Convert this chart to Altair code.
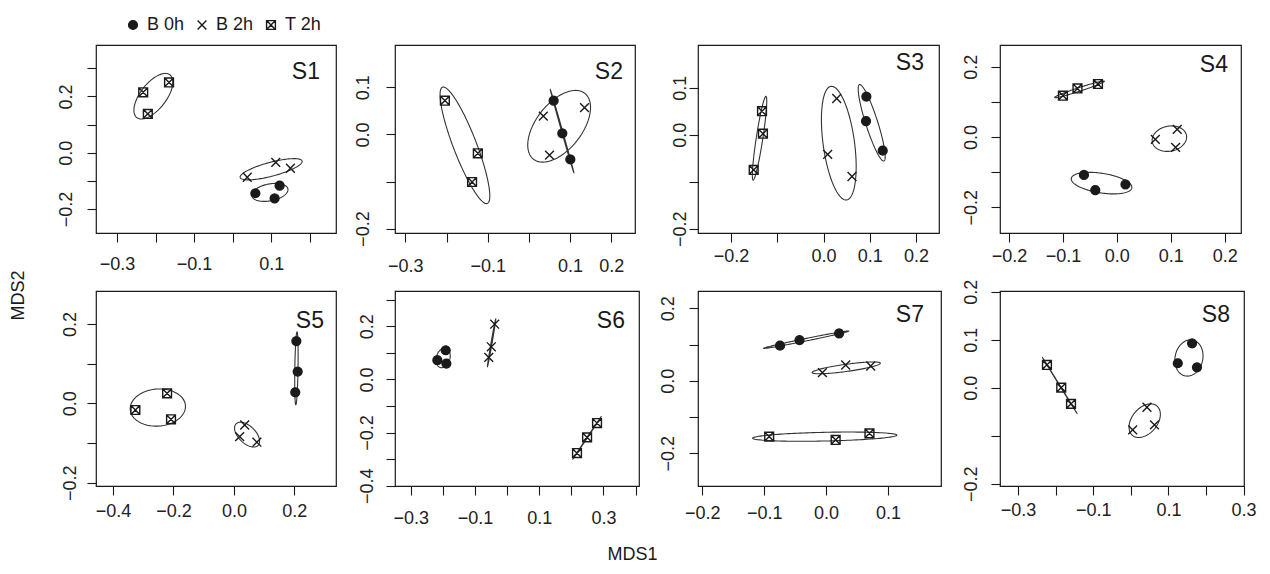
import altair as alt
import numpy as np
import pandas as pd

FONT = "Liberation Sans"
PANELS = ["S1", "S2", "S3", "S4", "S5", "S6", "S7", "S8"]
GROUPS = ["B 0h", "B 2h", "T 2h"]

# point coordinates per panel (MDS1, MDS2)
B0H_X = [[0.059, 0.122, 0.109], [0.060, 0.081, 0.1005], [0.0926, 0.0919, 0.128], [-0.061, -0.040, 0.016],
         [0.2066, 0.211, 0.203], [-0.217, -0.191, -0.189], [-0.0745, -0.043, 0.021], [0.163, 0.125, 0.176]]
B0H_Y = [[-0.144, -0.117, -0.162], [0.0717, 0.0023, -0.053], [0.081, 0.029, -0.034], [-0.108, -0.151, -0.1346],
         [0.157, 0.080, 0.0277], [0.0728, 0.110, 0.060], [0.097, 0.1126, 0.131], [0.0925, 0.051, 0.0426]]
B2H_X = [[0.038, 0.112, 0.150], [0.035, 0.135, 0.050], [0.0285, 0.009, 0.0616], [0.0714, 0.112, 0.109],
         [0.0357, 0.019, 0.076], [-0.0386, -0.049, -0.057], [-0.006, 0.0316, 0.072], [0.043, 0.005, 0.063]]
B2H_Y = [[-0.087, -0.034, -0.055], [0.039, 0.057, -0.044], [0.077, -0.042, -0.089], [-0.0066, 0.0218, -0.0294],
         [-0.0546, -0.084, -0.098], [0.208, 0.123, 0.083], [0.0225, 0.0437, 0.041], [-0.0406, -0.0877, -0.0773]]
T2H_X = [[-0.232, -0.220, -0.165], [-0.204, -0.124, -0.138], [-0.133, -0.131, -0.151], [-0.100, -0.073, -0.035],
         [-0.326, -0.221, -0.208], [0.2176, 0.249, 0.280], [-0.092, 0.0154, 0.070], [-0.223, -0.185, -0.159]]
T2H_Y = [[0.215, 0.138, 0.250], [0.0717, -0.040, -0.101], [0.050, 0.002, -0.075], [0.1175, 0.138, 0.1507],
         [-0.0168, 0.0252, -0.0403], [-0.277, -0.218, -0.164], [-0.154, -0.163, -0.145], [0.0475, 0.0003, -0.0336]]

# axis ranges
X_DOMAIN = [[-0.3545, 0.2683], [-0.3251, 0.2575], [-0.2714, 0.2497], [-0.2167, 0.2303],
            [-0.4562, 0.3378], [-0.3488, 0.4106], [-0.207, 0.1856], [-0.3479, 0.3011]]
Y_DOMAIN = [[-0.2853, 0.383], [-0.2093, 0.1899], [-0.2092, 0.1908], [-0.273, 0.2616],
            [-0.2084, 0.2832], [-0.401, 0.333], [-0.2901, 0.2478], [-0.2045, 0.2014]]

# tick values (in tenths) and which of them carry a label
X_TICKS = [[-3, -2, -1, 0, 1, 2], [-3, -2, -1, 0, 1, 2], [-2, -1, 0, 1, 2], [-2, -1, 0, 1, 2],
           [-4, -2, 0, 2], [-3, -2, -1, 0, 1, 2, 3, 4], [-2, -1, 0, 1], [-3, -2, -1, 0, 1, 2, 3]]
X_LABELED = [[-3, -1, 1], [-3, -1, 1, 2], [-2, 0, 1, 2], [-2, -1, 0, 1, 2],
             [-4, -2, 0, 2], [-3, -1, 1, 3], [-2, -1, 0, 1], [-3, -1, 1, 3]]
Y_TICKS = [[-2, -1, 0, 1, 2, 3], [-2, -1, 0, 1], [-2, -1, 0, 1], [-2, -1, 0, 1, 2],
           [-2, -1, 0, 1, 2], [-4, -3, -2, -1, 0, 1, 2, 3], [-2, -1, 0, 1, 2], [-2, -1, 0, 1, 2]]
Y_LABELED = [[-2, 0, 2], [-2, 0, 1], [-2, 0, 1], [-2, 0, 2],
             [-2, 0, 2], [-4, -2, 0, 2], [-2, 0, 2], [-2, 0, 1, 2]]

# layout / style
WIDTHS = [240, 240, 241, 241, 240, 244, 243, 244]
HEIGHTS = [188, 188, 188, 188, 195, 195, 195, 195]
X_PAD = [13, 15, 5, 5, 7, 14, 9, 6]
Y_PAD = [15.5, 17.5, 3.5, 14.5, 11.5, 13.5, 15.5, 14.5]
NAME_RIGHT = [16, 12, 15, 13, 12, 14, 17, 14]
NAME_BASE = [33.5, 34, 25, 27, 37, 37, 31, 31]

SHAPES = ["circle", "M-1,-1L1,1M1,-1L-1,1", "M-1,-1L1,-1L1,1L-1,1ZM-1,-1L1,1M1,-1L-1,1"]
INK = "#1a1a1a"
FILLS = [INK, "transparent", "transparent"]
STROKES = [INK, INK, INK]

# 95% confidence ellipse of the group centroid (standard error, n = 3)
T_SCALE = np.sqrt(5.991464547 / 3.0)


def ellipse(xs, ys, n=140):
    pts = np.column_stack([xs, ys])
    c = pts.mean(axis=0)
    cov = np.cov(pts.T)
    w, v = np.linalg.eigh(cov)
    w = np.clip(w, 0, None)
    th = np.linspace(0, 2 * np.pi, n)
    circ = np.vstack([np.cos(th), np.sin(th)])
    e = (v @ np.diag(np.sqrt(w)) @ circ) * T_SCALE
    return c[0] + e[0], c[1] + e[1]


def label_expr(vals):
    return "indexof([" + ",".join(str(v) for v in vals) + "], round(datum.value*10)) >= 0 ? datum.label : ''"


def panel(i):
    gx = [B0H_X[i], B2H_X[i], T2H_X[i]]
    gy = [B0H_Y[i], B2H_Y[i], T2H_Y[i]]
    prow, erow = [], []
    for g, xs, ys in zip(GROUPS, gx, gy):
        for a, b in zip(xs, ys):
            prow.append({"x": a, "y": b, "group": g})
        ex, ey = ellipse(xs, ys)
        for k, (a, b) in enumerate(zip(ex, ey)):
            erow.append({"x": a, "y": b, "group": g, "o": k})
    pts = pd.DataFrame(prow)
    ell = pd.DataFrame(erow)

    xs = alt.Scale(domain=X_DOMAIN[i], nice=False, zero=False)
    ys = alt.Scale(domain=Y_DOMAIN[i], nice=False, zero=False)
    xaxis = alt.Axis(values=[t / 10 for t in X_TICKS[i]], format=".1f", labelExpr=label_expr(X_LABELED[i]),
                     labelPadding=X_PAD[i], title=None, labelOverlap=False, labelFlush=False)
    ykw = dict(values=[t / 10 for t in Y_TICKS[i]], format=".1f", labelExpr=label_expr(Y_LABELED[i]),
               labelPadding=Y_PAD[i], labelAngle=270, labelAlign="center", labelBaseline="alphabetic",
               labelOverlap=False, labelFlush=False)
    if PANELS[i] == "S5":
        yaxis = alt.Axis(title="MDS2", titleX=-78, titleY=4, titleAngle=270, titleAlign="center",
                         titleBaseline="middle", titleFontSize=18, titleFont=FONT, titleFontWeight="normal",
                         titleColor=INK, **ykw)
    else:
        yaxis = alt.Axis(title=None, **ykw)

    lines = alt.Chart(ell).mark_line(color="#333333", strokeWidth=1.1).encode(
        x=alt.X("x:Q", scale=xs, axis=xaxis),
        y=alt.Y("y:Q", scale=ys, axis=yaxis),
        detail="group:N",
        order="o:Q",
    )
    points = alt.Chart(pts).mark_point(filled=True, opacity=1, strokeWidth=1.4, size=78).encode(
        x=alt.X("x:Q", scale=xs, axis=xaxis),
        y=alt.Y("y:Q", scale=ys, axis=yaxis),
        shape=alt.Shape("group:N", scale=alt.Scale(domain=GROUPS, range=SHAPES), legend=alt.Legend(title=None)),
        fill=alt.Fill("group:N", scale=alt.Scale(domain=GROUPS, range=FILLS), legend=alt.Legend(title=None)),
        stroke=alt.Stroke("group:N", scale=alt.Scale(domain=GROUPS, range=STROKES), legend=alt.Legend(title=None)),
    )
    name = alt.Chart(pd.DataFrame({"t": [PANELS[i]]})).mark_text(
        align="right", baseline="alphabetic", fontSize=23, font=FONT, color=INK
    ).encode(text="t:N", x=alt.value(WIDTHS[i] - NAME_RIGHT[i]), y=alt.value(NAME_BASE[i]))
    return alt.layer(lines, points, name).properties(width=WIDTHS[i], height=HEIGHTS[i])


P = [panel(i) for i in range(8)]

chart = alt.concat(*P, columns=4, spacing={"row": 58, "column": 59}, bounds="flush").properties(
    title=alt.TitleParams("MDS1", orient="bottom", anchor="middle", fontSize=18, font=FONT,
                          fontWeight="normal", color=INK, offset=18),
    padding={"left": 0, "top": 8, "right": 0, "bottom": 0},
).configure(font=FONT).configure_view(
    stroke=INK, strokeWidth=1.2
).configure_axis(
    domain=False, grid=False, tickSize=9, tickColor=INK, tickWidth=1.1,
    labelFont=FONT, labelFontSize=18, labelColor="#222222",
).configure_legend(
    orient="none", legendX=28, legendY=-29, direction="horizontal", padding=0,
    labelFont=FONT, labelFontSize=18, labelColor=INK, labelOffset=5, columnPadding=8,
    symbolSize=78, symbolStrokeWidth=1.4, symbolOpacity=1,
)

chart.save("out.html", embed_options={"renderer": "svg", "actions": False})
